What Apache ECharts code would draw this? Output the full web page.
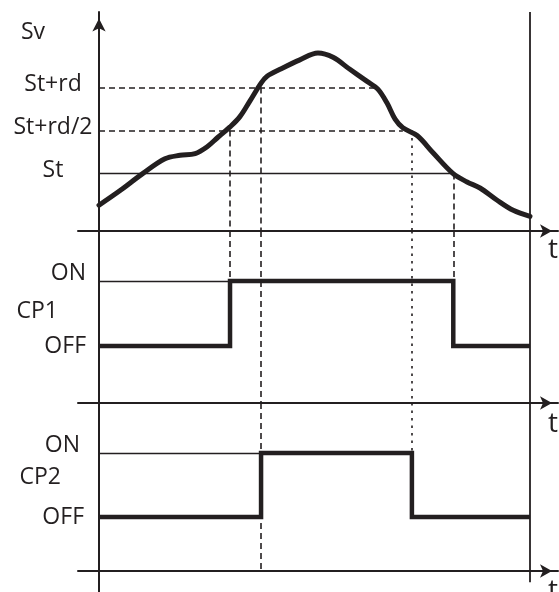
<!DOCTYPE html>
<html>
<head>
<meta charset="utf-8">
<script src="https://cdn.jsdelivr.net/npm/echarts@6/dist/echarts.min.js"></script>
<style>
  html, body { margin: 0; padding: 0; background: #fff; }
  #chart { width: 559px; height: 592px; }
</style>
</head>
<body>
<div id="chart"></div>
<script>
// time runs 0..100 between the left axis and the right end line
const svTime = [0, 4.9, 10.2, 15.3, 18.8, 22.3, 25.1, 27.6, 30.4, 32.7, 35.0, 37.6, 39.0, 42.0, 46.6, 50.8,
  54.3, 58.2, 62.2, 64.7, 66.8, 68.7, 70.5, 73.8, 77.5, 82.1, 85.4, 88.4, 92.3, 96.1, 100];
const svValue = [3.0, 4.7, 6.7, 8.4, 8.8, 9.0, 9.8, 10.9, 12.1, 13.3, 15.1, 17.2, 18.0, 18.8, 19.9, 20.7,
  20.2, 18.8, 17.4, 16.5, 14.9, 13.0, 12.0, 11.1, 9.1, 6.7, 5.7, 5.0, 3.6, 2.4, 1.7];

// set point and differential
const St = 6.7;
const rd = 10;
const thresholdNames = ['St', 'St+rd/2', 'St+rd'];
const thresholdValues = [St, St + rd / 2, St + rd];
// where the falling curve meets each threshold (end of the horizontal guide)
const thresholdFallTime = [82.2, 70.5, 64.6];

// compressor states (step: value holds until next time)
const cp1Time = [0, 30.4, 82.2, 100];
const cp1State = [0, 1, 0, 0];
const cp2Time = [0, 37.6, 72.6, 100];
const cp2State = [0, 1, 0, 0];
const stateNames = ['OFF', 'ON'];

const INK = '#231f20';
const FONT = 'Open Sans';
const FS = 23;

// px layout helpers
const PX_PER_T = 431 / 100;
const X_MIN = -21 / PX_PER_T;
const X_MAX = 459 / PX_PER_T;
const SV_MAX = 218 / 8.6;
const SV_NAME_AT = 22.7;
const CP1_MIN = -57 / 65, CP1_MAX = 1 + 50 / 65;
const CP2_MIN = -54 / 64, CP2_MAX = 1 + 50 / 64;

const cp1On = cp1Time[1], cp1Off = cp1Time[2];
const cp2On = cp2Time[1], cp2Off = cp2Time[2];

const dashed = {color: INK, width: 1.6, type: [6, 4]};
const dotted = {color: INK, width: 1.6, type: [2.5, 5]};
const thin = {color: INK, width: 1.3, type: 'solid'};

function seg(x1, y1, x2, y2, style) {
  return [{coord: [x1, y1], lineStyle: style}, {coord: [x2, y2]}];
}

function markLines(data) {
  return {
    silent: true,
    symbol: ['none', 'none'],
    label: {show: false},
    emphasis: {disabled: true},
    animation: false,
    z: 1,
    data: data
  };
}

function timeAxis(gridIndex, namePadTop) {
  return {
    type: 'value', gridIndex: gridIndex, min: X_MIN, max: X_MAX,
    axisLine: {
      show: true, onZero: false,
      symbol: ['none', 'arrow'], symbolSize: [10, 12], symbolOffset: [0, -6],
      lineStyle: {color: INK, width: 2}
    },
    axisTick: {show: false}, axisLabel: {show: false}, splitLine: {show: false},
    name: 't', nameLocation: 'end', nameGap: -10, nameMoveOverlap: false,
    nameTextStyle: {color: INK, fontFamily: FONT, fontSize: 28, verticalAlign: 'top', padding: [namePadTop, 0, 0, 0]}
  };
}

function stateAxis(gridIndex, min, max, name, margin, onRight, nameGap, nameLH) {
  return {
    type: 'value', gridIndex: gridIndex, min: min, max: max,
    axisLine: {show: false}, axisTick: {show: false}, splitLine: {show: false},
    axisLabel: {
      customValues: [0, 1], margin: margin,
      color: INK, fontFamily: FONT, fontSize: FS,
      formatter: v => v === 1 ? '{on|' + stateNames[1] + '}' : stateNames[0],
      rich: {on: {color: INK, fontFamily: FONT, fontSize: FS, padding: [0, onRight, 15, 0]}}
    },
    name: name, nameLocation: 'middle', nameRotate: 0, nameGap: nameGap, nameMoveOverlap: false,
    nameTextStyle: {color: INK, fontFamily: FONT, fontSize: FS, verticalAlign: 'bottom', lineHeight: nameLH}
  };
}

const chart = echarts.init(document.getElementById('chart'), null, {renderer: 'canvas'});

const option = {
  animation: false,
  backgroundColor: '#fff',
  grid: [
    {left: 78, top: 13, width: 480, height: 218, outerBoundsMode: 'none'},
    {left: 78, top: 231, width: 480, height: 172, outerBoundsMode: 'none'},
    {left: 78, top: 403, width: 480, height: 168, outerBoundsMode: 'none'},
    {left: 99, top: 12, width: 431, height: 580, outerBoundsMode: 'none'}
  ],
  xAxis: [
    timeAxis(0, 5), timeAxis(1, 7), timeAxis(2, 6),
    {type: 'value', gridIndex: 3, min: 0, max: 100, show: false}
  ],
  yAxis: [
    {
      type: 'value', gridIndex: 0, min: 0, max: SV_MAX,
      axisLine: {show: false}, axisTick: {show: false}, splitLine: {show: false},
      axisLabel: {
        customValues: thresholdValues.concat([SV_NAME_AT]), margin: 25, align: 'center',
        color: INK, fontFamily: FONT, fontSize: FS, padding: [0, 0, 6, 0],
        formatter: v => {
          const i = thresholdValues.findIndex(tv => Math.abs(tv - v) < 1e-6);
          return i >= 0 ? thresholdNames[i] : '{sv|Sv}';
        },
        rich: {sv: {color: INK, fontFamily: FONT, fontSize: FS, padding: [0, 40, 0, 0]}}
      }
    },
    stateAxis(1, CP1_MIN, CP1_MAX, 'CP1', -8, 0, 20, 12),
    stateAxis(2, CP2_MIN, CP2_MAX, 'CP2', -6, 4, 17, 20),
    {
      type: 'value', gridIndex: 3, min: 0, max: 1,
      axisLine: {
        show: true, symbol: ['none', 'arrow'], symbolSize: [10, 13], symbolOffset: [0, -6.5],
        lineStyle: {color: INK, width: 2}
      },
      axisTick: {show: false}, axisLabel: {show: false}, splitLine: {show: false}
    }
  ],
  series: [
    {
      name: 'Sv', type: 'line', xAxisIndex: 0, yAxisIndex: 0, z: 3,
      data: svTime.map((t, i) => [t, svValue[i]]),
      smooth: 0.35, showSymbol: false, silent: true,
      lineStyle: {color: INK, width: 5, cap: 'round', join: 'round'},
      markLine: markLines([
        seg(0, thresholdValues[0], thresholdFallTime[0], thresholdValues[0], thin),
        seg(0, thresholdValues[1], thresholdFallTime[1], thresholdValues[1], dashed),
        seg(0, thresholdValues[2], thresholdFallTime[2], thresholdValues[2], dashed),
        seg(cp1On, thresholdValues[1], cp1On, 0, dashed),
        seg(cp2On, thresholdValues[2], cp2On, 0, dashed),
        seg(cp2Off, thresholdValues[1], cp2Off, 0, dotted),
        seg(cp1Off, thresholdValues[0], cp1Off, 0, dashed)
      ])
    },
    {
      name: 'CP1', type: 'line', xAxisIndex: 1, yAxisIndex: 1, z: 3,
      data: cp1Time.map((t, i) => [t, cp1State[i]]),
      step: 'end', showSymbol: false, silent: true,
      lineStyle: {color: INK, width: 4.5, join: 'miter', cap: 'butt'},
      markLine: markLines([
        seg(0, 1, cp1On, 1, thin),
        seg(cp1On, CP1_MAX, cp1On, 1, dashed),
        seg(cp2On, CP1_MAX, cp2On, CP1_MIN, dashed),
        seg(cp2Off, CP1_MAX, cp2Off, CP1_MIN, dotted),
        seg(cp1Off, CP1_MAX, cp1Off, 1, dashed)
      ])
    },
    {
      name: 'CP2', type: 'line', xAxisIndex: 2, yAxisIndex: 2, z: 3,
      data: cp2Time.map((t, i) => [t, cp2State[i]]),
      step: 'end', showSymbol: false, silent: true,
      lineStyle: {color: INK, width: 4.5, join: 'miter', cap: 'butt'},
      markLine: markLines([
        seg(0, 1, cp2On, 1, thin),
        seg(cp2On, CP2_MAX, cp2On, CP2_MIN, dashed),
        seg(cp2Off, CP2_MAX, cp2Off, 1, dotted)
      ])
    },
    {
      // end of the observed interval
      name: 'end', type: 'line', xAxisIndex: 3, yAxisIndex: 3,
      data: [[100, 0.017], [100, 1]],
      showSymbol: false, silent: true,
      lineStyle: {color: INK, width: 1.8}
    }
  ]
};

chart.setOption(option);
</script>
</body>
</html>
